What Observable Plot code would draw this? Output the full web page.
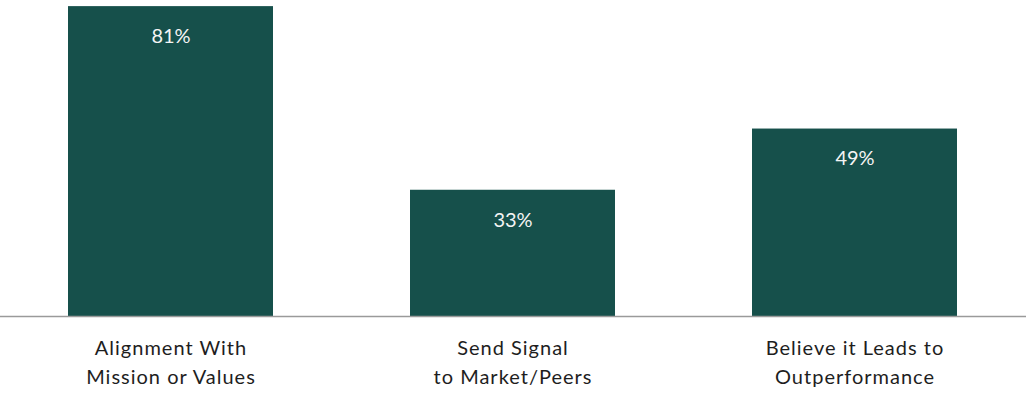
<!DOCTYPE html>
<html>
<head>
<meta charset="utf-8">
<script src="https://cdn.jsdelivr.net/npm/d3@7"></script>
<script src="https://cdn.jsdelivr.net/npm/@observablehq/plot@0.6"></script>
<style>
  html, body { margin: 0; padding: 0; background: #fff; }
  #chart svg { display: block; }
  #chart svg g[aria-label="x-axis tick label"] text { letter-spacing: 1px; }
</style>
</head>
<body>
<div id="chart"></div>
<script>
const categories = ["Alignment With\nMission or Values", "Send Signal\nto Market/Peers", "Believe it Leads to\nOutperformance"];
const values = [81, 33, 49];
const valueLabels = ["81%", "33%", "49%"];

const data = categories.map((c, i) => ({category: c, value: values[i], label: valueLabels[i]}));

const chart = Plot.plot({
  width: 1026,
  height: 393,
  marginLeft: 0,
  marginRight: 0,
  marginTop: 0,
  marginBottom: 77,
  style: {fontFamily: "Lato, 'Open Sans', sans-serif", background: "#fff"},
  x: {domain: categories, paddingInner: 0.4, paddingOuter: 0.2, label: null},
  y: {domain: [0, 82.6], axis: null},
  marks: [
    Plot.barY(data, {x: "category", y: "value", fill: "#16504b"}),
    Plot.ruleY([0], {stroke: "#9a9a9a", strokeWidth: 1.5}),
    Plot.text(data, {x: "category", y: "value", text: "label", dy: 30, fill: "#f4f4f4", fontSize: 20, style: {letterSpacing: "1.2px"}}),
    Plot.axisX({tickSize: 0, tickPadding: 18, fontSize: 20, lineHeight: 1.45, fill: "#1e1e1e", label: null})
  ]
});
document.getElementById("chart").appendChild(chart);
</script>
</body>
</html>
